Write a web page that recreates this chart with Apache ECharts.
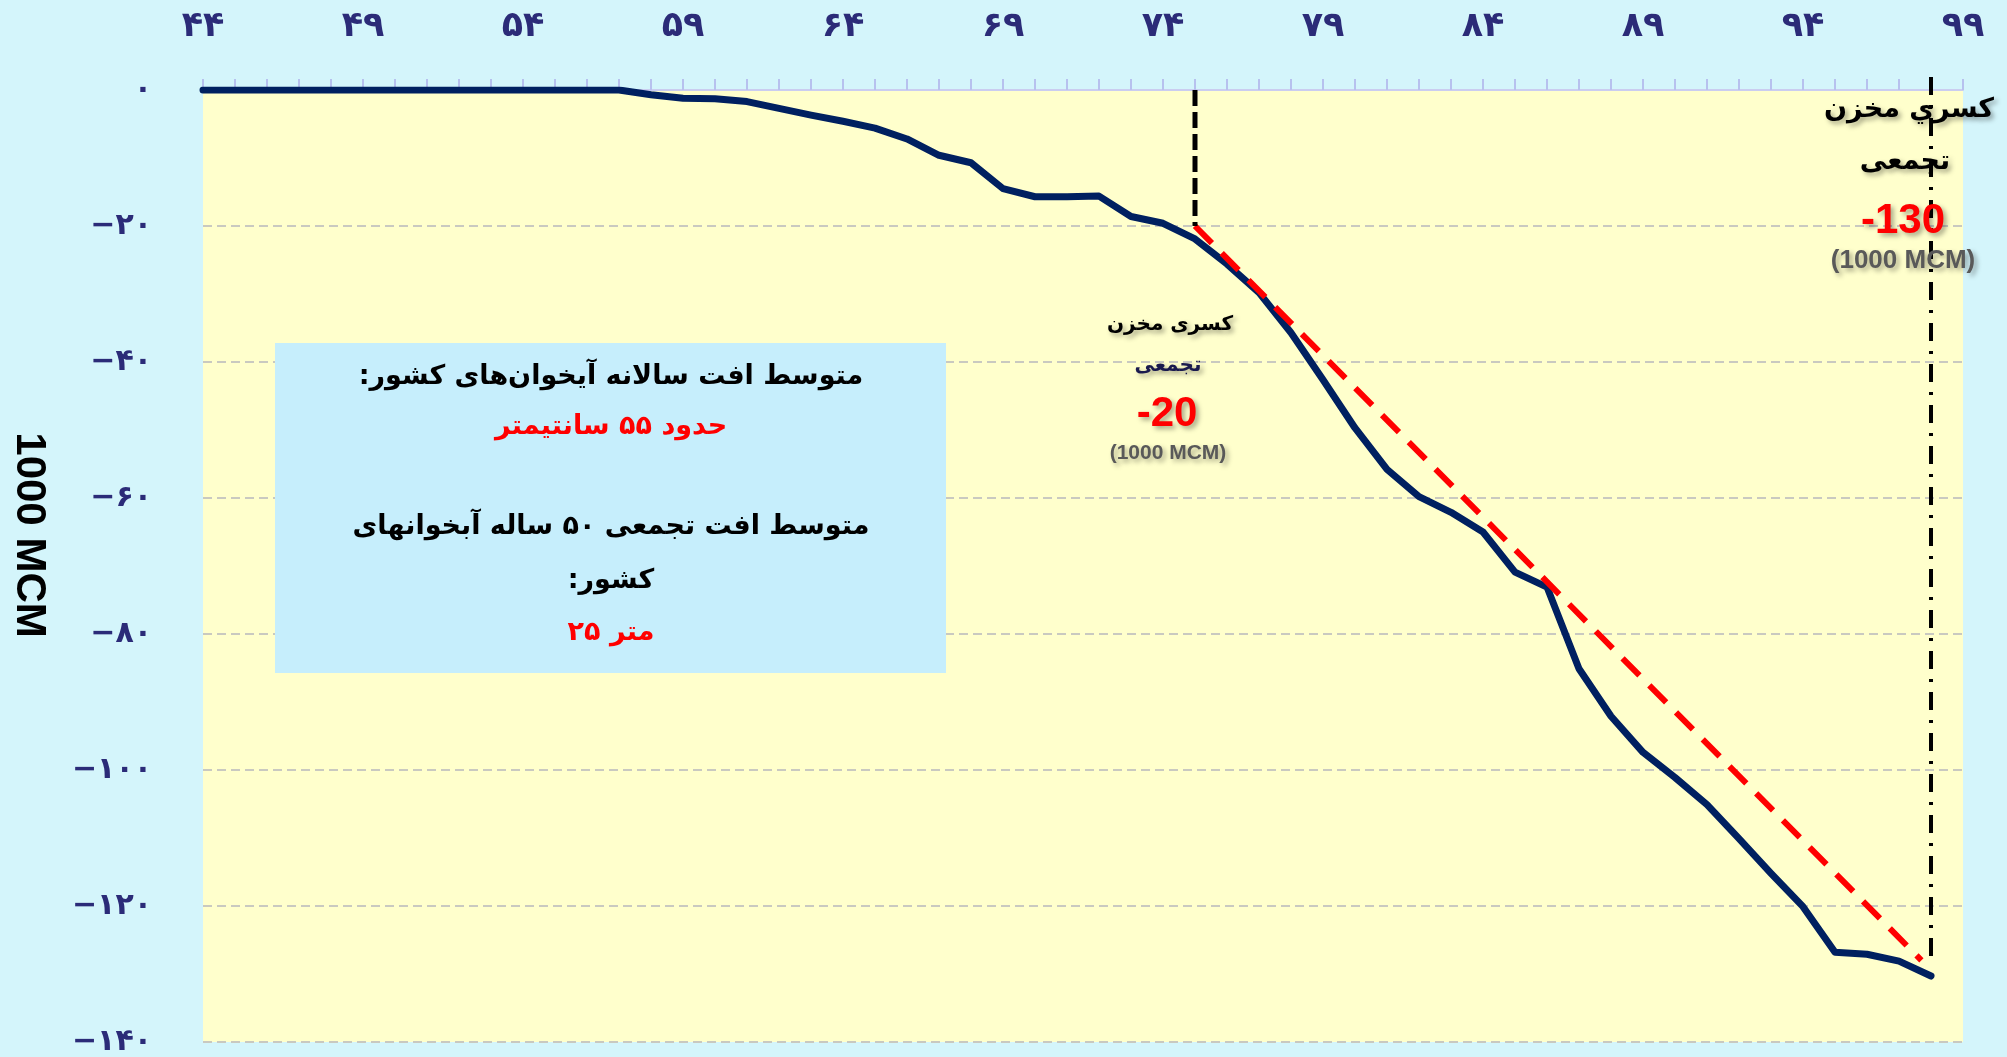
<!DOCTYPE html>
<html>
<head>
<meta charset="utf-8">
<script src="https://cdn.jsdelivr.net/npm/echarts@6/dist/echarts.min.js"></script>
<style>
  html, body { margin: 0; padding: 0; background: #d4f5fb; }
  #chart { width: 2007px; height: 1057px; }
</style>
</head>
<body>
<div id="chart"></div>
<script>
var years = [44, 45, 46, 47, 48, 49, 50, 51, 52, 53, 54, 55, 56, 57, 58, 59, 60, 61, 62, 63, 64, 65, 66, 67, 68, 69, 70, 71,
    72, 73, 74, 75, 76, 77, 78, 79, 80, 81, 82, 83, 84, 85, 86, 87, 88, 89, 90, 91, 92, 93, 94, 95, 96, 97, 98];
var storage = [0, 0, 0, 0, 0, 0, 0, 0, 0, 0, 0, 0, 0, 0, -0.7, -1.2, -1.3, -1.7, -2.7, -3.7, -4.6, -5.6, -7.2, -9.6, -10.7, -14.5,
    -15.7, -15.7, -15.6, -18.6, -19.6, -21.9, -25.6, -29.8, -35.7, -42.6, -49.7, -55.8, -59.8, -62.1, -65, -70.9, -73.1,
    -85.1, -92.1, -97.4, -101.1, -105.1, -110.1, -115.2, -120.1, -126.8, -127.1, -128.1, -130.3];

// red trend line from the 75 break point
var trendYears = [75, 97.7];
var trendValues = [-20, -128];

var mark75 = [[75, 0], [75, -20]];
var mark98 = [[98, 1.9], [98, -127.7]];

var yTicks = [0, -20, -40, -60, -80, -100, -120, -140];

var faDigits = '۰۱۲۳۴۵۶۷۸۹';
function toFa(n){
    return String(n).replace(/\d/g, function (d) { return faDigits[d]; });
}
var RLM = '\u200F';

var dom_chart = document.getElementById('chart');
var chart = echarts.init(dom_chart);

var shadow = {textShadowColor: 'rgba(0,0,0,0.35)', textShadowBlur: 5, textShadowOffsetX: 3, textShadowOffsetY: 3};
function note(x, y, text, size, color, font){
    return {
        type: 'text', x: x, y: y, z: 50,
        style: Object.assign({
            text: text, fill: color, font: 'bold ' + size + 'px ' + font,
            textAlign: 'center', textVerticalAlign: 'middle'
        }, shadow)
    };
}
function boxLine(y, text, color){
    return {
        type: 'text', x: 611, y: y, z: 40,
        style: {text: text, fill: color, font: 'bold 27px "DejaVu Sans"', textAlign: 'center', textVerticalAlign: 'middle'}
    };
}

var fa = '"DejaVu Sans"';
var lat = '"Liberation Sans"';

var option = {
    backgroundColor: '#d4f5fb',
    animation: false,
    grid: {left: 203, right: 44, top: 90, bottom: 9, show: true, backgroundColor: '#ffffcc', borderWidth: 0},
    xAxis: {
        type: 'value', position: 'top', min: 44, max: 99, interval: 5,
        axisLine: {show: true, onZero: false, lineStyle: {color: '#cacdf0', width: 2}},
        axisTick: {show: true, length: 11, lineStyle: {color: '#b7c1ee', width: 2}},
        minorTick: {show: true, splitNumber: 5, length: 11, lineStyle: {color: '#b7c1ee', width: 2}},
        splitLine: {show: false},
        axisLabel: {
            margin: 46, color: '#2b2b78', fontSize: 35, fontWeight: 'bold', fontFamily: 'DejaVu Sans',
            formatter: function (v) { return toFa(v); }
        }
    },
    yAxis: {
        type: 'value', min: -140, max: 0, interval: 20,
        axisLine: {show: false}, axisTick: {show: false},
        splitLine: {show: true, lineStyle: {color: '#c9c9c0', width: 2, type: [9, 5]}},
        axisLabel: {
            margin: 51, color: '#2b2b78', fontSize: 30, fontWeight: 'bold', fontFamily: 'DejaVu Sans',
            customValues: yTicks,
            formatter: function (v) { return v < 0 ? '\u2212' + toFa(-v) : toFa(v); }
        }
    },
    series: [
        {
            name: 'storage', type: 'line', symbol: 'none', z: 3,
            data: years.map(function (y, i) { return [y, storage[i]]; }),
            lineStyle: {color: '#002060', width: 7, cap: 'round', join: 'round'}
        },
        {
            name: 'trend', type: 'line', symbol: 'none', z: 4,
            data: trendYears.map(function (y, i) { return [y, trendValues[i]]; }),
            lineStyle: {color: '#ff0000', width: 6, type: [24, 14]}
        },
        {
            name: 'm75', type: 'line', symbol: 'none', z: 5,
            data: mark75,
            lineStyle: {color: '#000000', width: 5, type: [16, 6]}
        },
        {
            name: 'm98', type: 'line', symbol: 'none', z: 5, clip: false,
            data: mark98,
            lineStyle: {color: '#000000', width: 4, type: [18, 10, 3, 10]}
        }
    ],
    graphic: [
        {
            type: 'text', x: 29, y: 535, rotation: -Math.PI / 2,
            style: {text: '1000 MCM', fill: '#000', font: 'bold 42px "Liberation Sans"', textAlign: 'center', textVerticalAlign: 'middle'}
        },
        {type: 'rect', z: 30, shape: {x: 275, y: 343, width: 671, height: 330}, style: {fill: '#c6eefc'}},
        boxLine(377, 'متوسط افت سالانه آیخوان‌های کشور:' + RLM, '#000000'),
        boxLine(427, 'حدود ۵۵ سانتیمتر', '#ff0000'),
        boxLine(527, 'متوسط افت تجمعی ۵۰ ساله آبخوانهای', '#000000'),
        boxLine(581, 'کشور:' + RLM, '#000000'),
        boxLine(633, '۲۵ متر', '#ff0000'),

        note(1170, 325, 'کسری مخزن', 20, '#000000', fa),
        note(1168, 366, 'تجمعی', 20, '#1a1a4e', fa),
        note(1167, 414, '-20', 42, '#ff0000', lat),
        note(1168, 453, '(1000 MCM)', 21, '#595959', lat),

        note(1909, 110, 'کسري مخزن', 27, '#000000', fa),
        note(1905, 162, 'تجمعی', 27, '#000000', fa),
        note(1903, 221, '-130', 42, '#ff0000', lat),
        note(1903, 261, '(1000 MCM)', 26, '#595959', lat)
    ]
};

chart.setOption(option);
</script>
</body>
</html>
